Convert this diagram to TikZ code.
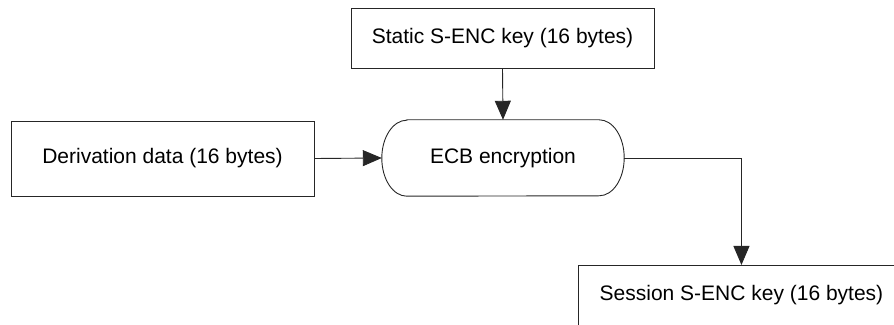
\documentclass[tikz,border=0pt]{standalone}
\usepackage{fontspec}
\setmainfont{Liberation Sans}
\usetikzlibrary{arrows.meta}
\begin{document}
\begin{tikzpicture}[x=1pt,y=1pt,
  box/.style={draw=black!85,line width=0.9pt,rectangle,minimum width=303pt,inner sep=0pt,
    font=\fontsize{21}{25}\selectfont},
  conn/.style={draw=black!85,line width=0.9pt,-{Triangle[length=19pt,width=16pt]}}]
\clip (0,0) rectangle (894,324);
\node[box,minimum height=60pt] (static) at (502.5,286) {Static S-ENC key (16 bytes)};
\node[box,minimum height=75pt] (deriv) at (162.5,165.5) {Derivation data (16 bytes)};
\node[rectangle,inner sep=0pt,minimum width=242pt,minimum height=76pt,
  font=\fontsize{21}{25}\selectfont] (ecb) at (503,166) {ECB encryption};
\draw[black!85,line width=0.9pt] ([xshift=25pt]ecb.north west) -- ([xshift=-25pt]ecb.north east)
  arc[start angle=90,end angle=-90,x radius=25pt,y radius=38pt]
  -- ([xshift=25pt]ecb.south west)
  arc[start angle=270,end angle=90,x radius=25pt,y radius=38pt] -- cycle;
\node[box,minimum width=326pt,minimum height=60pt,anchor=north west] (sess) at (578,59) {Session S-ENC key (16 bytes)};
\draw[conn] (static.south) -- (ecb.north);
\draw[conn] (deriv.east) -- (ecb.west);
\draw[conn] (ecb.east) -| (sess.north);
\end{tikzpicture}
\end{document}
